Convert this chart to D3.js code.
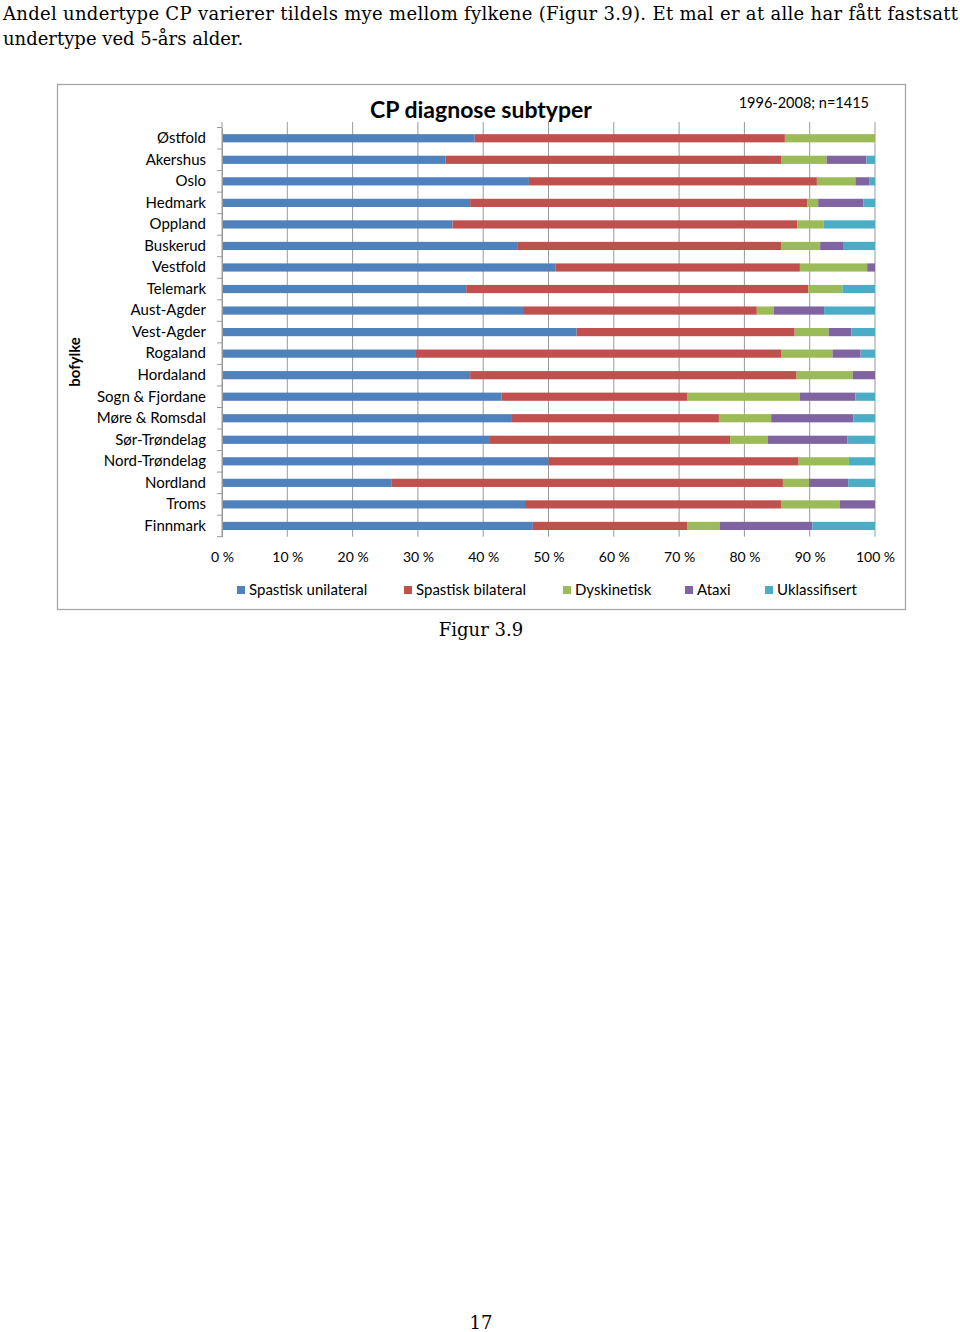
<!DOCTYPE html>
<html>
<head>
<meta charset="utf-8">
<script src="https://cdn.jsdelivr.net/npm/d3@7"></script>
<style>
  body { margin: 0; background: #fff; }
  svg text { font-family: Lato, "Open Sans", sans-serif; fill: #000; }
  .serif { font-family: "DejaVu Serif", "Liberation Serif", serif !important; }
</style>
</head>
<body>
<div id="chart"></div>
<script>
// fylker, top to bottom
var fylker = ["Østfold", "Akershus", "Oslo", "Hedmark", "Oppland", "Buskerud", "Vestfold",
  "Telemark", "Aust-Agder", "Vest-Agder", "Rogaland", "Hordaland", "Sogn & Fjordane",
  "Møre & Romsdal", "Sør-Trøndelag", "Nord-Trøndelag", "Nordland", "Troms", "Finnmark"];

var subtyper = ["Spastisk unilateral", "Spastisk bilateral", "Dyskinetisk", "Ataxi", "Uklassifisert"];

// percent per fylke
var unilateral = [38.7, 34.2, 47.0, 38.0, 35.3, 45.2, 51.1, 37.4, 46.1, 54.3, 29.7, 38.0, 42.8, 44.4, 40.9, 50.0, 26.0, 46.4, 47.6];
var bilateral  = [47.5, 51.5, 44.1, 51.6, 52.8, 40.4, 37.4, 52.4, 35.8, 33.4, 56.0, 50.0, 28.5, 31.7, 36.9, 38.3, 59.9, 39.2, 23.7];
var dyskinetisk = [13.8, 6.9, 5.9, 1.7, 4.0, 6.0, 10.3, 5.2, 2.6, 5.2, 7.8, 8.6, 17.2, 8.0, 5.8, 7.7, 4.0, 9.0, 4.9];
var ataxi      = [0, 6.1, 2.1, 6.9, 0, 3.5, 1.2, 0, 7.7, 3.5, 4.3, 3.4, 8.5, 12.6, 12.2, 0, 6.0, 5.4, 14.2];
var uklass     = [0, 1.3, 0.9, 1.8, 7.9, 4.9, 0, 5.0, 7.8, 3.6, 2.2, 0, 3.0, 3.3, 4.2, 4.0, 4.1, 0, 9.6];

var xTicks = [0, 10, 20, 30, 40, 50, 60, 70, 80, 90, 100];
var colors = ["#4F81BD", "#C0504D", "#9BBB59", "#8064A2", "#4BACC6"];

var rows = fylker.map(function(f, i) {
  return {fylke: f, "Spastisk unilateral": unilateral[i], "Spastisk bilateral": bilateral[i],
    "Dyskinetisk": dyskinetisk[i], "Ataxi": ataxi[i], "Uklassifisert": uklass[i]};
});

var svg = d3.select("#chart").append("svg")
  .attr("width", 960)
  .attr("height", 1332);

// page text
svg.append("text").attr("class", "serif")
  .attr("x", 3).attr("y", 20)
  .attr("textLength", 955).attr("lengthAdjust", "spacing")
  .style("font-size", "18px")
  .text("Andel undertype CP varierer tildels mye mellom fylkene (Figur 3.9). Et mal er at alle har fått fastsatt");
svg.append("text").attr("class", "serif")
  .attr("x", 3).attr("y", 45)
  .style("font-size", "18px")
  .text("undertype ved 5-års alder.");

// chart frame
svg.append("rect")
  .attr("x", 57.5).attr("y", 84.5)
  .attr("width", 848).attr("height", 525)
  .attr("fill", "none").attr("stroke", "#a6a6a6").attr("stroke-width", 1.3);

var x = d3.scaleLinear().domain([0, 100]).range([222, 875]);
var y = d3.scaleBand().domain(fylker).range([127.5, 536.7]).paddingInner(0.62).paddingOuter(0.31);

// gridlines
svg.append("g").selectAll("line")
  .data(xTicks)
  .enter().append("line")
  .attr("x1", d => x(d)).attr("x2", d => x(d))
  .attr("y1", 122).attr("y2", 536.7)
  .attr("stroke", "#9a9a9a").attr("stroke-width", 1);

// stacked bars
var stack = d3.stack().keys(subtyper)(rows);
svg.append("g").selectAll("g")
  .data(stack)
  .enter().append("g")
  .attr("fill", (d, i) => colors[i])
  .selectAll("rect")
  .data(d => d)
  .enter().append("rect")
  .attr("x", d => x(d[0]))
  .attr("y", d => y(d.data.fylke))
  .attr("width", d => x(d[1]) - x(d[0]))
  .attr("height", y.bandwidth());

// category axis
var yAxis = d3.axisLeft(y).tickSize(0).tickPadding(16);
var yg = svg.append("g")
  .attr("transform", "translate(222,0)")
  .call(yAxis);
yg.select(".domain").attr("stroke", "#9a9a9a");
yg.selectAll("text").style("font-size", "15px").style("font-family", "Lato, sans-serif");

// tick marks between categories
var step = y.step();
var bounds = d3.range(fylker.length + 1).map(i => 127.5 + i * step);
svg.append("g").selectAll("line")
  .data(bounds)
  .enter().append("line")
  .attr("x1", 217).attr("x2", 222)
  .attr("y1", d => d).attr("y2", d => d)
  .attr("stroke", "#9a9a9a");

// value axis labels
var xAxis = d3.axisBottom(x).tickValues(xTicks).tickSize(0).tickPadding(15).tickFormat(d => d + " %");
var xg = svg.append("g")
  .attr("transform", "translate(0,536.7)")
  .call(xAxis);
xg.select(".domain").remove();
xg.selectAll("text").style("font-size", "14px").style("font-family", "Lato, sans-serif");

// titles
svg.append("text")
  .attr("x", 481).attr("y", 118)
  .attr("text-anchor", "middle")
  .style("font-size", "23px").style("font-weight", "bold")
  .text("CP diagnose subtyper");

svg.append("text")
  .attr("x", 869).attr("y", 108)
  .attr("text-anchor", "end")
  .style("font-size", "14.5px")
  .text("1996-2008; n=1415");

svg.append("text")
  .attr("transform", "translate(80,362) rotate(-90)")
  .attr("text-anchor", "middle")
  .style("font-size", "15px").style("font-weight", "bold")
  .text("bofylke");

// legend
var legendX = [237, 404, 563, 685, 765];
var lg = svg.append("g").selectAll("g")
  .data(subtyper)
  .enter().append("g")
  .attr("transform", (d, i) => "translate(" + legendX[i] + ",586)");
lg.append("rect").attr("width", 8).attr("height", 8).attr("fill", (d, i) => colors[i]);
lg.append("text").attr("x", 12).attr("y", 9)
  .style("font-size", "15px")
  .text(d => d);

svg.append("text").attr("class", "serif")
  .attr("x", 481).attr("y", 636)
  .attr("text-anchor", "middle")
  .style("font-size", "18px")
  .text("Figur 3.9");

svg.append("text").attr("class", "serif")
  .attr("x", 481).attr("y", 1329)
  .attr("text-anchor", "middle")
  .style("font-size", "18px")
  .text("17");
</script>
</body>
</html>
